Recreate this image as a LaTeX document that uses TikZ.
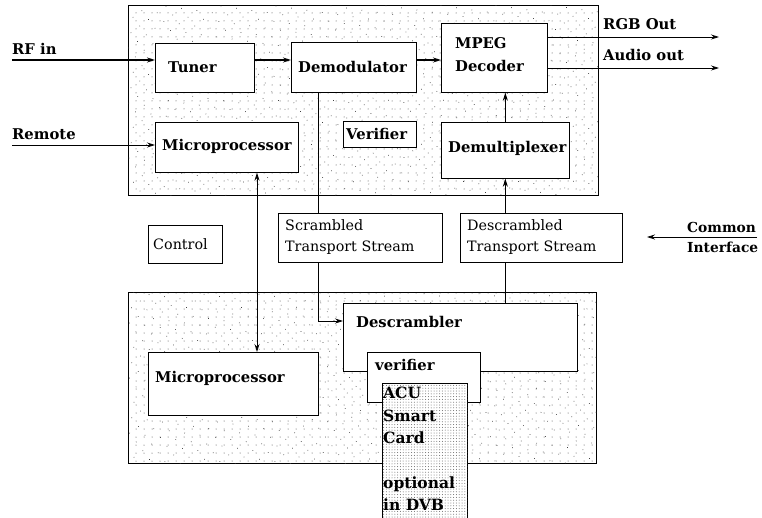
\documentclass[tikz,border=0pt]{standalone}
\usepackage{fontspec}
\setmainfont{DejaVu Serif}
\usetikzlibrary{arrows.meta,patterns.meta}
\begin{document}
\begin{tikzpicture}[x=1pt,y=-1pt,
  big/.style={draw, line width=0.8pt, anchor=north west, inner sep=0pt,
    pattern={Dots[distance=8pt,radius=0.5pt]}, pattern color=black!75,
    postaction={pattern={Dots[distance=11pt,angle=37,radius=0.5pt]}, pattern color=black!75}},
  blk/.style={draw, fill=white, line width=0.7pt, anchor=north west, inner sep=0pt},
  acubox/.style={draw, fill=white, line width=0.7pt, anchor=north west, inner sep=0pt,
    postaction={pattern={Dots[distance=2.8pt,radius=0.5pt]}, pattern color=black!60}},
  bt/.style={font=\bfseries\fontsize{14.8}{23}\selectfont, anchor=west, align=left, inner sep=0pt},
  rt/.style={font=\fontsize{14.3}{21}\selectfont, anchor=west, align=left, inner sep=0pt},
  arr/.style={-{Stealth[length=8pt,width=5pt]}, line width=0.8pt},
  darr/.style={{Stealth[length=8pt,width=5pt]}-{Stealth[length=8pt,width=5pt]}, line width=0.8pt},
]
\useasboundingbox (0,0) rectangle (762,517);

% enclosing stippled boxes
\node[big, minimum width=470pt, minimum height=190pt] (top) at (128,5) {};
\node[big, minimum width=468pt, minimum height=171pt] (bot) at (128,292) {};

% helper coordinates
\coordinate (rfS) at (12,60);
\coordinate (remS) at (12,145);
\coordinate (rgbE) at (719,37);
\coordinate (audE) at (719,68);
\coordinate (sc) at (318,321);
\coordinate (mc) at (257,0);
\coordinate (ciS) at (757,237);
\coordinate (ciE) at (647,237);

% box geometry (for connectors)
\node[blk, minimum width=99pt, minimum height=49pt, draw=none, fill=none] (tuner) at (155,43) {};
\node[blk, minimum width=125pt, minimum height=50pt, draw=none, fill=none] (demod) at (291,42) {};
\node[blk, minimum width=106pt, minimum height=69pt, draw=none, fill=none] (mpeg) at (441,23) {};
\node[blk, minimum width=143pt, minimum height=50pt, draw=none, fill=none] (micro1) at (155,122) {};
\node[blk, minimum width=128pt, minimum height=56pt, draw=none, fill=none] (demux) at (441,122) {};
\node[blk, minimum width=234pt, minimum height=68pt, draw=none, fill=none] (descr) at (343,303) {};
\node[blk, minimum width=170pt, minimum height=63pt, draw=none, fill=none] (micro2) at (148,352) {};

% connectors
\draw[arr, line width=1.3pt] (rfS) -- (rfS -| tuner.west);
\draw[arr, line width=1.1pt] (tuner.east |- rfS) -- (demod.west |- rfS);
\draw[arr, line width=1.1pt] (demod.east |- rfS) -- (mpeg.west |- rfS);
\draw[arr] (remS) -- (remS -| micro1.west);
\draw[arr] (mpeg.east |- rgbE) -- (rgbE);
\draw[arr] (mpeg.east |- audE) -- (audE);
\draw[arr] (demux.north) -- (demux.north |- mpeg.south);
\draw[arr] (descr.north -| demux.south) -- (demux.south);
\draw[arr] (sc |- demod.south) -- (sc) -- (sc -| descr.west);
\draw[darr] (micro1.south -| mc) -- (micro2.north -| mc);
\draw[arr] (ciS) -- (ciE);

% visible boxes
\node[blk, minimum width=99pt, minimum height=49pt] (tunerB) at (155,43) {};
\node[blk, minimum width=125pt, minimum height=50pt] (demodB) at (291,42) {};
\node[blk, minimum width=106pt, minimum height=69pt] (mpegB) at (441,23) {};
\node[blk, minimum width=143pt, minimum height=50pt] (micro1B) at (155,122) {};
\node[blk, minimum width=73pt, minimum height=26pt] (verif1) at (343,121) {};
\node[blk, minimum width=128pt, minimum height=56pt] (demuxB) at (441,122) {};
\node[blk, minimum width=74pt, minimum height=38pt] (control) at (148,225) {};
\node[blk, minimum width=164pt, minimum height=49pt] (scr) at (278,213) {};
\node[blk, minimum width=162pt, minimum height=49pt] (dscr) at (460,213) {};
\node[blk, minimum width=234pt, minimum height=68pt] (descrB) at (343,303) {};
\node[blk, minimum width=113pt, minimum height=50pt] (verif2) at (367,352) {};
\node[blk, minimum width=170pt, minimum height=63pt] (micro2B) at (148,352) {};
\node[acubox, minimum width=85pt, minimum height=140pt] (acu) at (382,383) {};

% texts
\node[bt] (rfT) at (12,49) {RF in};
\node[bt] (remT) at (12,134) {Remote};
\node[bt] (rgbT) at (603,24) {RGB Out};
\node[bt] (audT) at (603,55) {Audio out};
\node[bt, font=\bfseries\fontsize{13.8}{20}\selectfont] (ciT) at (687,237) {Common\\Interface};
\node[bt] (tunerT) at (168,67) {Tuner};
\node[bt] (demodT) at (298,67) {Demodulator};
\node[bt] (mpegT) at (455,55) {MPEG\\Decoder};
\node[bt] (micro1T) at (162,146) {Microprocessor};
\node[bt] (verif1T) at (346,134) {Verifier};
\node[bt] (demuxT) at (448,148) {Demultiplexer};
\node[rt] (controlT) at (153,244) {Control};
\node[rt] (scrT) at (285,237) {Scrambled\\Transport Stream};
\node[rt] (dscrT) at (467,237) {Descrambled\\Transport Stream};
\node[bt] (descrT) at (356,322) {Descrambler};
\node[bt] (verif2T) at (375,365) {verifier};
\node[bt] (micro2T) at (155,378) {Microprocessor};
\node[bt, anchor=north west, font=\bfseries\fontsize{15.5}{22.4}\selectfont] (acuT) at (383,387) {ACU\\Smart\\Card\\[22.4pt]optional\\in DVB};
\end{tikzpicture}
\end{document}
